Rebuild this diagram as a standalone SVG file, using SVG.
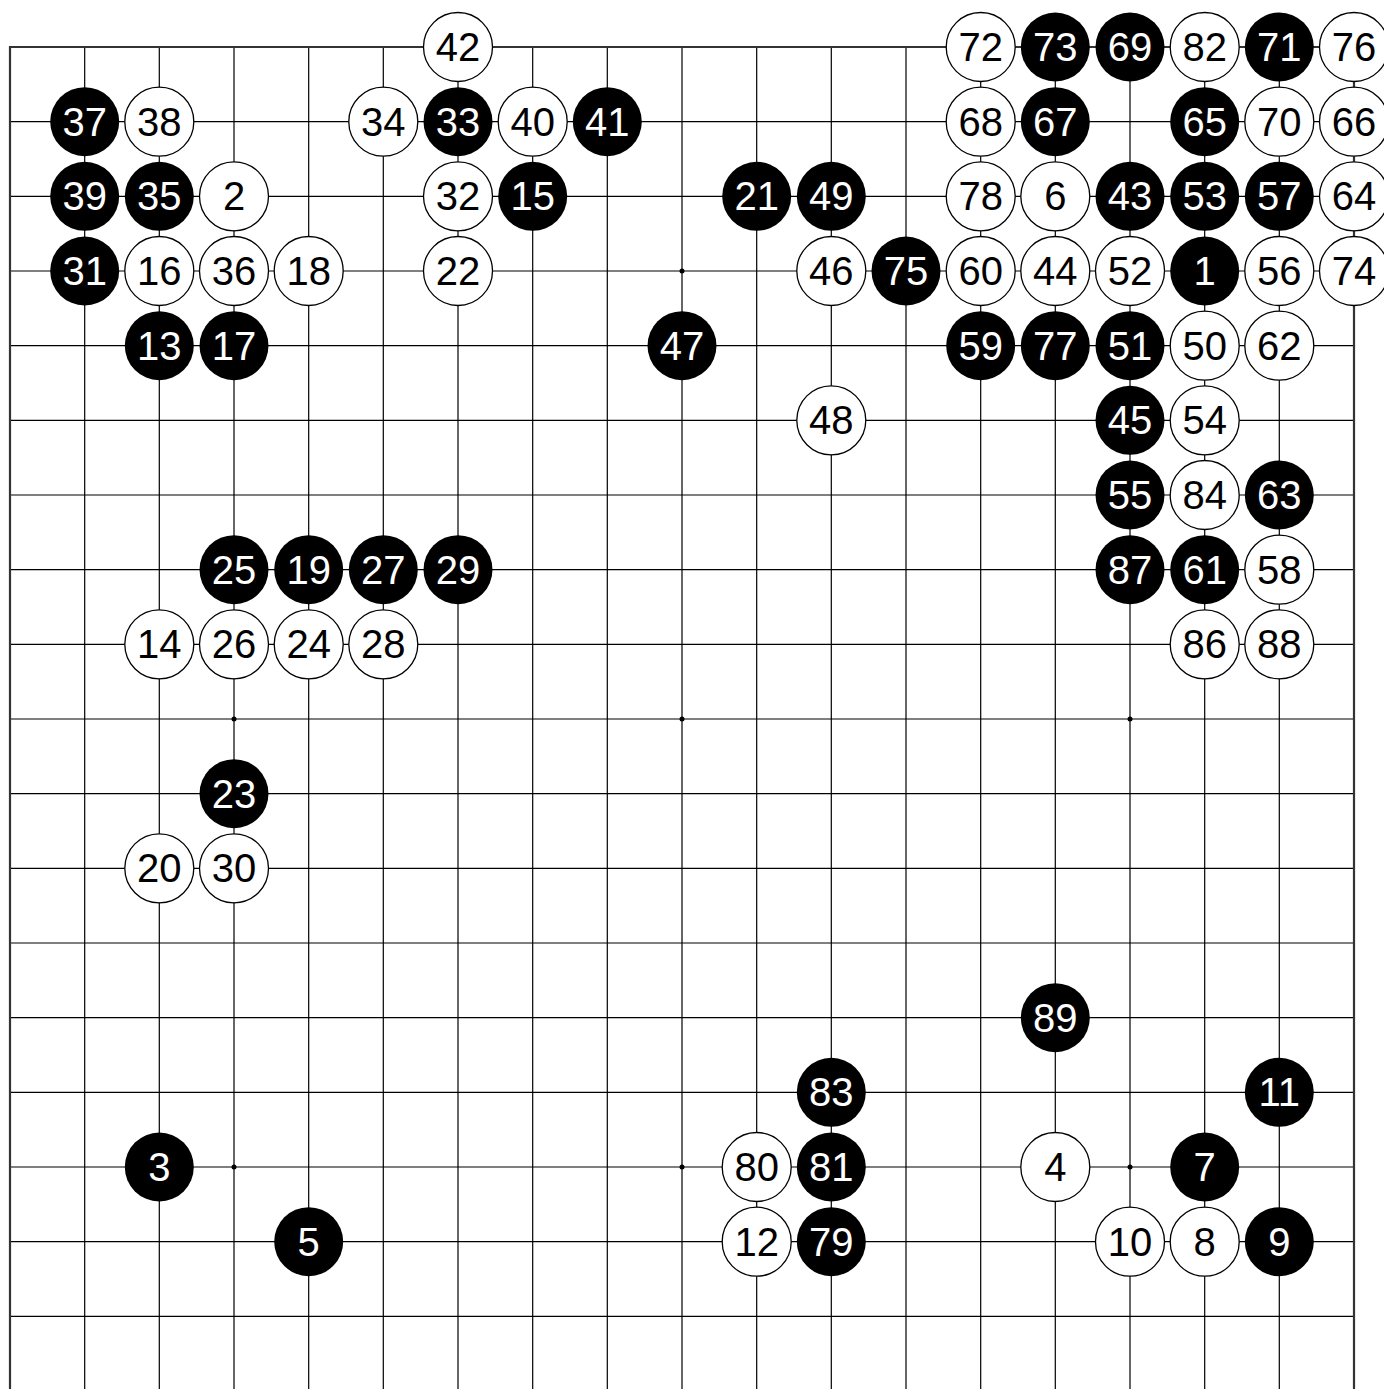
<svg xmlns="http://www.w3.org/2000/svg" width="1384" height="1389" viewBox="0 0 1384 1389">
<style>
.g{stroke:#000;stroke-width:1.2;fill:none}
.e{stroke:#333;stroke-width:2.2;fill:none}
.b circle{fill:#000}
.w circle{fill:#fff;stroke:#000;stroke-width:1.3}
text{font-family:"Liberation Sans",Arial,sans-serif;font-size:40px;text-anchor:middle;dominant-baseline:central}
.b text{fill:#fff}
.w text{fill:#000}
</style>
<rect width="1384" height="1389" fill="#fff"/>
<g id="grid">
<path class="g" d="M84.7 47V1389M159.3 47V1389M234 47V1389M308.7 47V1389M383.3 47V1389M458 47V1389M532.7 47V1389M607.3 47V1389M682 47V1389M756.7 47V1389M831.3 47V1389M906 47V1389M980.7 47V1389M1055.3 47V1389M1130 47V1389M1204.7 47V1389M1279.3 47V1389"/>
<path class="g" d="M10 121.7H1354M10 196.3H1354M10 271H1354M10 345.7H1354M10 420.3H1354M10 495H1354M10 569.7H1354M10 644.3H1354M10 719H1354M10 793.7H1354M10 868.3H1354M10 943H1354M10 1017.7H1354M10 1092.3H1354M10 1167H1354M10 1241.7H1354M10 1316.3H1354"/>
<path class="e" d="M10 1389V47H1354V1389"/>
<g fill="#000"><circle cx="682" cy="271" r="2.5"/><circle cx="234" cy="719" r="2.5"/><circle cx="682" cy="719" r="2.5"/><circle cx="1130" cy="719" r="2.5"/><circle cx="234" cy="1167" r="2.5"/><circle cx="682" cy="1167" r="2.5"/><circle cx="1130" cy="1167" r="2.5"/><circle cx="234" cy="271" r="2.5"/><circle cx="1130" cy="271" r="2.5"/></g>
</g>
<g id="stones">
<g id="s42" class="w"><circle cx="458" cy="47" r="34.5"/><text x="458" y="47">42</text></g>
<g id="s72" class="w"><circle cx="980.7" cy="47" r="34.5"/><text x="980.7" y="47">72</text></g>
<g id="s73" class="b"><circle cx="1055.3" cy="47" r="34.5"/><text x="1055.3" y="47">73</text></g>
<g id="s69" class="b"><circle cx="1130" cy="47" r="34.5"/><text x="1130" y="47">69</text></g>
<g id="s82" class="w"><circle cx="1204.7" cy="47" r="34.5"/><text x="1204.7" y="47">82</text></g>
<g id="s71" class="b"><circle cx="1279.3" cy="47" r="34.5"/><text x="1279.3" y="47">71</text></g>
<g id="s76" class="w"><circle cx="1354" cy="47" r="34.5"/><text x="1354" y="47">76</text></g>

<g id="s37" class="b"><circle cx="84.7" cy="121.7" r="34.5"/><text x="84.7" y="121.7">37</text></g>
<g id="s38" class="w"><circle cx="159.3" cy="121.7" r="34.5"/><text x="159.3" y="121.7">38</text></g>
<g id="s34" class="w"><circle cx="383.3" cy="121.7" r="34.5"/><text x="383.3" y="121.7">34</text></g>
<g id="s33" class="b"><circle cx="458" cy="121.7" r="34.5"/><text x="458" y="121.7">33</text></g>
<g id="s40" class="w"><circle cx="532.7" cy="121.7" r="34.5"/><text x="532.7" y="121.7">40</text></g>
<g id="s41" class="b"><circle cx="607.3" cy="121.7" r="34.5"/><text x="607.3" y="121.7">41</text></g>
<g id="s68" class="w"><circle cx="980.7" cy="121.7" r="34.5"/><text x="980.7" y="121.7">68</text></g>
<g id="s67" class="b"><circle cx="1055.3" cy="121.7" r="34.5"/><text x="1055.3" y="121.7">67</text></g>
<g id="s65" class="b"><circle cx="1204.7" cy="121.7" r="34.5"/><text x="1204.7" y="121.7">65</text></g>
<g id="s70" class="w"><circle cx="1279.3" cy="121.7" r="34.5"/><text x="1279.3" y="121.7">70</text></g>
<g id="s66" class="w"><circle cx="1354" cy="121.7" r="34.5"/><text x="1354" y="121.7">66</text></g>

<g id="s39" class="b"><circle cx="84.7" cy="196.3" r="34.5"/><text x="84.7" y="196.3">39</text></g>
<g id="s35" class="b"><circle cx="159.3" cy="196.3" r="34.5"/><text x="159.3" y="196.3">35</text></g>
<g id="s2" class="w"><circle cx="234" cy="196.3" r="34.5"/><text x="234" y="196.3">2</text></g>
<g id="s32" class="w"><circle cx="458" cy="196.3" r="34.5"/><text x="458" y="196.3">32</text></g>
<g id="s15" class="b"><circle cx="532.7" cy="196.3" r="34.5"/><text x="532.7" y="196.3">15</text></g>
<g id="s21" class="b"><circle cx="756.7" cy="196.3" r="34.5"/><text x="756.7" y="196.3">21</text></g>
<g id="s49" class="b"><circle cx="831.3" cy="196.3" r="34.5"/><text x="831.3" y="196.3">49</text></g>
<g id="s78" class="w"><circle cx="980.7" cy="196.3" r="34.5"/><text x="980.7" y="196.3">78</text></g>
<g id="s6" class="w"><circle cx="1055.3" cy="196.3" r="34.5"/><text x="1055.3" y="196.3">6</text></g>
<g id="s43" class="b"><circle cx="1130" cy="196.3" r="34.5"/><text x="1130" y="196.3">43</text></g>
<g id="s53" class="b"><circle cx="1204.7" cy="196.3" r="34.5"/><text x="1204.7" y="196.3">53</text></g>
<g id="s57" class="b"><circle cx="1279.3" cy="196.3" r="34.5"/><text x="1279.3" y="196.3">57</text></g>
<g id="s64" class="w"><circle cx="1354" cy="196.3" r="34.5"/><text x="1354" y="196.3">64</text></g>

<g id="s31" class="b"><circle cx="84.7" cy="271" r="34.5"/><text x="84.7" y="271">31</text></g>
<g id="s16" class="w"><circle cx="159.3" cy="271" r="34.5"/><text x="159.3" y="271">16</text></g>
<g id="s36" class="w"><circle cx="234" cy="271" r="34.5"/><text x="234" y="271">36</text></g>
<g id="s18" class="w"><circle cx="308.7" cy="271" r="34.5"/><text x="308.7" y="271">18</text></g>
<g id="s22" class="w"><circle cx="458" cy="271" r="34.5"/><text x="458" y="271">22</text></g>
<g id="s46" class="w"><circle cx="831.3" cy="271" r="34.5"/><text x="831.3" y="271">46</text></g>
<g id="s75" class="b"><circle cx="906" cy="271" r="34.5"/><text x="906" y="271">75</text></g>
<g id="s60" class="w"><circle cx="980.7" cy="271" r="34.5"/><text x="980.7" y="271">60</text></g>
<g id="s44" class="w"><circle cx="1055.3" cy="271" r="34.5"/><text x="1055.3" y="271">44</text></g>
<g id="s52" class="w"><circle cx="1130" cy="271" r="34.5"/><text x="1130" y="271">52</text></g>
<g id="s1" class="b"><circle cx="1204.7" cy="271" r="34.5"/><text x="1204.7" y="271">1</text></g>
<g id="s56" class="w"><circle cx="1279.3" cy="271" r="34.5"/><text x="1279.3" y="271">56</text></g>
<g id="s74" class="w"><circle cx="1354" cy="271" r="34.5"/><text x="1354" y="271">74</text></g>

<g id="s13" class="b"><circle cx="159.3" cy="345.7" r="34.5"/><text x="159.3" y="345.7">13</text></g>
<g id="s17" class="b"><circle cx="234" cy="345.7" r="34.5"/><text x="234" y="345.7">17</text></g>
<g id="s47" class="b"><circle cx="682" cy="345.7" r="34.5"/><text x="682" y="345.7">47</text></g>
<g id="s59" class="b"><circle cx="980.7" cy="345.7" r="34.5"/><text x="980.7" y="345.7">59</text></g>
<g id="s77" class="b"><circle cx="1055.3" cy="345.7" r="34.5"/><text x="1055.3" y="345.7">77</text></g>
<g id="s51" class="b"><circle cx="1130" cy="345.7" r="34.5"/><text x="1130" y="345.7">51</text></g>
<g id="s50" class="w"><circle cx="1204.7" cy="345.7" r="34.5"/><text x="1204.7" y="345.7">50</text></g>
<g id="s62" class="w"><circle cx="1279.3" cy="345.7" r="34.5"/><text x="1279.3" y="345.7">62</text></g>

<g id="s48" class="w"><circle cx="831.3" cy="420.3" r="34.5"/><text x="831.3" y="420.3">48</text></g>
<g id="s45" class="b"><circle cx="1130" cy="420.3" r="34.5"/><text x="1130" y="420.3">45</text></g>
<g id="s54" class="w"><circle cx="1204.7" cy="420.3" r="34.5"/><text x="1204.7" y="420.3">54</text></g>

<g id="s55" class="b"><circle cx="1130" cy="495" r="34.5"/><text x="1130" y="495">55</text></g>
<g id="s84" class="w"><circle cx="1204.7" cy="495" r="34.5"/><text x="1204.7" y="495">84</text></g>
<g id="s63" class="b"><circle cx="1279.3" cy="495" r="34.5"/><text x="1279.3" y="495">63</text></g>

<g id="s25" class="b"><circle cx="234" cy="569.7" r="34.5"/><text x="234" y="569.7">25</text></g>
<g id="s19" class="b"><circle cx="308.7" cy="569.7" r="34.5"/><text x="308.7" y="569.7">19</text></g>
<g id="s27" class="b"><circle cx="383.3" cy="569.7" r="34.5"/><text x="383.3" y="569.7">27</text></g>
<g id="s29" class="b"><circle cx="458" cy="569.7" r="34.5"/><text x="458" y="569.7">29</text></g>
<g id="s87" class="b"><circle cx="1130" cy="569.7" r="34.5"/><text x="1130" y="569.7">87</text></g>
<g id="s61" class="b"><circle cx="1204.7" cy="569.7" r="34.5"/><text x="1204.7" y="569.7">61</text></g>
<g id="s58" class="w"><circle cx="1279.3" cy="569.7" r="34.5"/><text x="1279.3" y="569.7">58</text></g>

<g id="s14" class="w"><circle cx="159.3" cy="644.3" r="34.5"/><text x="159.3" y="644.3">14</text></g>
<g id="s26" class="w"><circle cx="234" cy="644.3" r="34.5"/><text x="234" y="644.3">26</text></g>
<g id="s24" class="w"><circle cx="308.7" cy="644.3" r="34.5"/><text x="308.7" y="644.3">24</text></g>
<g id="s28" class="w"><circle cx="383.3" cy="644.3" r="34.5"/><text x="383.3" y="644.3">28</text></g>
<g id="s86" class="w"><circle cx="1204.7" cy="644.3" r="34.5"/><text x="1204.7" y="644.3">86</text></g>
<g id="s88" class="w"><circle cx="1279.3" cy="644.3" r="34.5"/><text x="1279.3" y="644.3">88</text></g>

<g id="s23" class="b"><circle cx="234" cy="793.7" r="34.5"/><text x="234" y="793.7">23</text></g>
<g id="s20" class="w"><circle cx="159.3" cy="868.3" r="34.5"/><text x="159.3" y="868.3">20</text></g>
<g id="s30" class="w"><circle cx="234" cy="868.3" r="34.5"/><text x="234" y="868.3">30</text></g>

<g id="s89" class="b"><circle cx="1055.3" cy="1017.7" r="34.5"/><text x="1055.3" y="1017.7">89</text></g>
<g id="s83" class="b"><circle cx="831.3" cy="1092.3" r="34.5"/><text x="831.3" y="1092.3">83</text></g>
<g id="s11" class="b"><circle cx="1279.3" cy="1092.3" r="34.5"/><text x="1279.3" y="1092.3">11</text></g>

<g id="s3" class="b"><circle cx="159.3" cy="1167" r="34.5"/><text x="159.3" y="1167">3</text></g>
<g id="s80" class="w"><circle cx="756.7" cy="1167" r="34.5"/><text x="756.7" y="1167">80</text></g>
<g id="s81" class="b"><circle cx="831.3" cy="1167" r="34.5"/><text x="831.3" y="1167">81</text></g>
<g id="s4" class="w"><circle cx="1055.3" cy="1167" r="34.5"/><text x="1055.3" y="1167">4</text></g>
<g id="s7" class="b"><circle cx="1204.7" cy="1167" r="34.5"/><text x="1204.7" y="1167">7</text></g>

<g id="s5" class="b"><circle cx="308.7" cy="1241.7" r="34.5"/><text x="308.7" y="1241.7">5</text></g>
<g id="s12" class="w"><circle cx="756.7" cy="1241.7" r="34.5"/><text x="756.7" y="1241.7">12</text></g>
<g id="s79" class="b"><circle cx="831.3" cy="1241.7" r="34.5"/><text x="831.3" y="1241.7">79</text></g>
<g id="s10" class="w"><circle cx="1130" cy="1241.7" r="34.5"/><text x="1130" y="1241.7">10</text></g>
<g id="s8" class="w"><circle cx="1204.7" cy="1241.7" r="34.5"/><text x="1204.7" y="1241.7">8</text></g>
<g id="s9" class="b"><circle cx="1279.3" cy="1241.7" r="34.5"/><text x="1279.3" y="1241.7">9</text></g>
</g>
</svg>
